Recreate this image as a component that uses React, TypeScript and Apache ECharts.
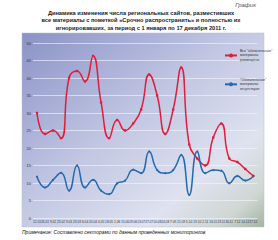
import React, { useEffect, useRef } from "react";
import * as echarts from "echarts";

const categories = ["12.01","26.01","9.02","23.02","9.03","23.03","6.04","20.04","4.05","18.05","1.06","15.06","29.06","13.07","27.07","10.08","24.08","7.09","21.09","5.10","19.10","2.11","16.11","23.11","30.11","7.12","14.12","17.12"];
const redName = "Все \"обязательные\"\nматериалы\nразмещены";
const blueName = "\"Обязательные\"\nматериалы\nотсутствуют";
const redValues = [30, 24, 25, 22.8, 40, 42, 39, 46.3, 33, 22.8, 28, 25, 27, 31, 41, 35, 24, 31, 43, 21, 17, 15, 23, 27, 17, 16, 14, 12];
const blueValues = [11.8, 8.7, 10.9, 12.9, 7.8, 15, 8.7, 10.9, 7.8, 6.8, 9.9, 10.7, 13.8, 12.8, 19, 13.7, 12.8, 13.7, 18, 6.6, 19, 12.8, 13.7, 13.5, 9.9, 12, 10.7, 12];
const yMin = 0;
const yMax = 50;
const yStep = 5;

const titleLines = [
  "Динамика изменения числа региональных сайтов, разместивших",
  "все материалы с пометкой «Срочно распространить» и полностью их",
  "игнорировавших, за период с 1 января по 17 декабря 2011 г.",
];
const kindLabel = "График";
const noteText = "Примечание: Составлено секторами по данным проведенных мониторингов";

export default function App() {
  const ref = useRef<HTMLDivElement>(null);
  useEffect(() => {
    if (!ref.current) return;
    const chart = echarts.init(ref.current, null, { renderer: "svg" });
    chart.setOption({
      animation: false,
      backgroundColor: "#ffffff",
      textStyle: { fontFamily: "Liberation Sans, Arial, sans-serif" },
      graphic: [
        {
          type: "rect",
          z: -10,
          silent: true,
          shape: { x: 22, y: 33, width: 242, height: 194 },
          style: {
            fill: new echarts.graphic.LinearGradient(0, 0, 1, 1, [
              { offset: 0, color: "#8a92c6" },
              { offset: 0.45, color: "#c2c7e3" },
              { offset: 0.75, color: "#dfe2ef" },
              { offset: 0.9, color: "#cfd7d2" },
              { offset: 1, color: "#a3b3a2" },
            ]),
            stroke: "#b8bccf",
            lineWidth: 0.5,
          },
        },
        {
          type: "text",
          x: 256,
          y: 2,
          style: { text: kindLabel, fill: "#555", font: "italic 6px Liberation Sans", textAlign: "right" },
        },
        ...titleLines.map((t, i) => ({
          type: "text",
          x: 141,
          y: 10 + i * 7.3,
          style: { text: t, fill: "#1a1a28", font: "bold 5.7px Liberation Sans", textAlign: "center" },
        })),
        {
          type: "text",
          x: 22,
          y: 229,
          style: { text: noteText, fill: "#111", font: "italic 5px Liberation Sans", textAlign: "left" },
        },
      ],
      legend: {
        orient: "vertical",
        left: 219,
        top: 44,
        itemGap: 16,
        itemWidth: 12,
        itemHeight: 5,
        textStyle: { fontSize: 3.5, lineHeight: 4.3, color: "#333", padding: [0, 0, 0, -2] },
        data: [redName, blueName],
      },
      grid: { left: 33, top: 43, width: 224.3, height: 175 },
      xAxis: {
        type: "category",
        data: categories,
        boundaryGap: true,
        axisLine: { show: false },
        axisTick: { show: false },
        axisLabel: { interval: 0, fontSize: 3.2, color: "#333", margin: 2 },
      },
      yAxis: {
        type: "value",
        min: yMin,
        max: yMax,
        interval: yStep,
        axisLine: { show: false },
        axisTick: { show: false },
        axisLabel: { fontSize: 4, color: "#333", margin: 2 },
        splitLine: { lineStyle: { color: "rgba(240,242,250,0.85)", width: 0.8 } },
      },
      series: [
        {
          name: redName,
          type: "line",
          data: redValues,
          smooth: 0.5,
          symbol: "circle",
          symbolSize: 2.6,
          itemStyle: { color: "#e01e3c" },
          lineStyle: { color: "#e01e3c", width: 1.5 },
        },
        {
          name: blueName,
          type: "line",
          data: blueValues,
          smooth: 0.5,
          symbol: "circle",
          symbolSize: 2,
          itemStyle: { color: "#2468ad" },
          lineStyle: { color: "#2468ad", width: 1.5 },
        },
      ],
    });
    return () => chart.dispose();
  }, []);
  return <div ref={ref} style={{ width: 278, height: 240, position: "absolute", left: 0, top: 0 }} />;
}
